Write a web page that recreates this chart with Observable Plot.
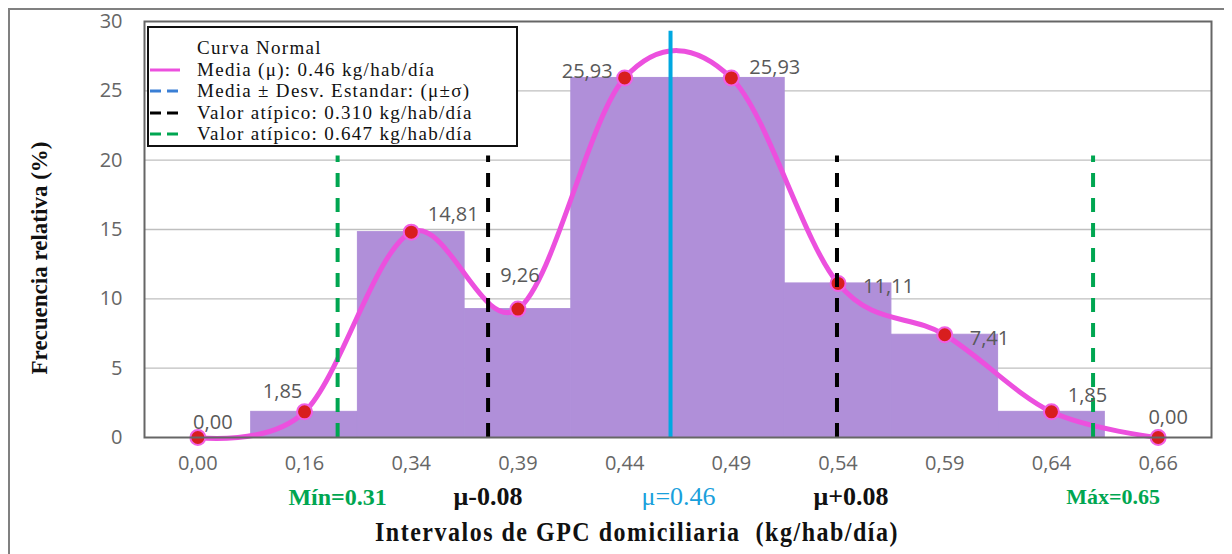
<!DOCTYPE html>
<html><head><meta charset="utf-8">
<script src="https://cdn.jsdelivr.net/npm/d3@7"></script>
<script src="https://cdn.jsdelivr.net/npm/@observablehq/plot@0.6"></script>
<style>
body{margin:0;background:#fff;}
#wrap{position:relative;width:1232px;height:554px;overflow:hidden;background:#fff;}
#wrap svg{position:absolute;left:0;top:0;}
.outer{position:absolute;left:8px;top:8px;width:1214px;height:560px;border-top:2px solid #808080;border-left:2px solid #808080;pointer-events:none;}
.legend{position:absolute;left:147px;top:26px;width:367px;height:117px;border:2px solid #111;background:#fff;font-family:"Liberation Serif",serif;font-size:19px;letter-spacing:1.3px;color:#111;overflow:hidden;}
.legend .row{position:absolute;left:0;height:22px;width:100%;}
.legend .row span{position:absolute;left:48px;top:0;line-height:22px;white-space:nowrap;}
.legend .row svg{position:absolute;left:7px;top:0;}
.xtitle{position:absolute;left:0;width:1274px;top:519px;text-align:center;font-family:"Liberation Serif",serif;font-weight:bold;font-size:24px;color:#111;letter-spacing:1.5px;transform:scaleY(1.12);}
.ytitle{position:absolute;left:40px;top:258px;font-family:"Liberation Serif",serif;font-weight:bold;font-size:23px;color:#111;white-space:nowrap;transform:translate(-50%,-50%) rotate(-90deg);}
</style></head><body><div id="wrap"></div>
<script>
// ---- data ----
const categories = ["0,00","0,16","0,34","0,39","0,44","0,49","0,54","0,59","0,64","0,66"];
const frecuencia = [0, 1.85, 14.81, 9.26, 25.93, 25.93, 11.11, 7.41, 1.85, 0];
const etiquetas = ["0,00","1,85","14,81","9,26","25,93","25,93","11,11","7,41","1,85","0,00"];
const yTicks = [0, 5, 10, 15, 20, 25, 30];
const refNames = ["Mín=0.31", "μ-0.08", "μ=0.46", "μ+0.08", "Máx=0.65"];
const refPos = [1.31, 2.72, 4.43, 5.99, 8.39];   // reference values along the category axis
const refTop = [20.3, 20.3, 29.3, 20.3, 20.3];
const legendItems = ["Curva Normal", "Media (μ): 0.46 kg/hab/día", "Media ± Desv. Estandar: (μ±σ)", "Valor atípico: 0.310 kg/hab/día", "Valor atípico: 0.647 kg/hab/día"];

// ---- build ----
const pts = categories.map((c, i) => ({i, c, v: frecuencia[i], lab: etiquetas[i]}));
const bars = pts.filter(d => d.v > 0);
const refs = refNames.map((n, k) => ({n, x: refPos[k], top: refTop[k], k}));
const refColor = ["#00a651", "#000000", "#00a8e1", "#000000", "#00a651"];
const refTextColor = ["#00a651", "#111111", "#1aa0dc", "#111111", "#00a651"];
const refTextSize = [24, 26, 26, 26, 22];

// label placement (layout, px offsets from point)
const labLayout = [
  {dx: 15, dy: -15, a: "middle"}, {dx: -22, dy: -20, a: "middle"}, {dx: 42, dy: -18, a: "middle"},
  {dx: 2, dy: -34, a: "middle"}, {dx: -12, dy: -6, a: "end"}, {dx: 18, dy: -10, a: "start"},
  {dx: 25, dy: 3, a: "start"}, {dx: 25, dy: 4, a: "start"}, {dx: 36, dy: -16, a: "middle"},
  {dx: 10, dy: -20, a: "middle"}
];

const labelMarks = pts.map((d, k) => Plot.text([d], {
  x: "i", y: "v", text: "lab", dx: labLayout[k].dx, dy: labLayout[k].dy,
  textAnchor: labLayout[k].a, fill: "#595959", fontSize: 20, fontFamily: "Open Sans", letterSpacing: "2px"
}));

const refTextMarks = refs.map(d => Plot.text([d], {
  x: "x", y: -4.3, text: "n", fill: refTextColor[d.k], dx: d.k === 2 ? 8 : (d.k === 3 ? 14 : (d.k === 4 ? 20 : 0)),
  fontFamily: "Liberation Serif", fontWeight: d.k === 2 ? "normal" : "bold", fontSize: refTextSize[d.k]
}));

const chart = Plot.plot({
  width: 1232, height: 554,
  marginLeft: 144, marginRight: 21, marginTop: 21, marginBottom: 117,
  style: {fontFamily: "Open Sans", fontSize: "19px", color: "#595959", background: "transparent", overflow: "visible"},
  x: {type: "linear", domain: [-0.5, 9.5]},
  y: {domain: [0, 30]},
  marks: [
    Plot.gridY([5, 10, 15, 20, 25], {stroke: "#bfbfbf", strokeOpacity: 1, strokeWidth: 1.3}),
    Plot.rectY(bars, {x1: d => d.i - 0.5, x2: d => d.i + 0.5, y1: 0, y2: "v", fill: "#b08fd9", stroke: "#b08fd9", strokeWidth: 1}),
    Plot.line(pts, {x: "i", y: "v", curve: "cardinal", stroke: "#ec50de", strokeWidth: 5}),
    Plot.dot(pts, {x: "i", y: "v", r: 7.5, fill: "#d81e1e", stroke: "#f060e4", strokeWidth: 2}),
    Plot.ruleX(refs.filter(d => d.k !== 2), {x: "x", y1: 0, y2: "top", stroke: d => refColor[d.k], strokeWidth: 4, strokeDasharray: "14,11"}),
    Plot.ruleX(refs.filter(d => d.k === 2), {x: "x", y1: 0, y2: "top", stroke: "#00a8e1", strokeWidth: 4}),
    ...labelMarks,
    Plot.frame({stroke: "#666", strokeWidth: 2}),
    Plot.axisX({ticks: d3.range(categories.length), tickFormat: i => categories[i], tickSize: 0, tickPadding: 18, fill: "#666", fontSize: 20, letterSpacing: "2px", label: null}),
    Plot.axisY({ticks: yTicks, tickSize: 0, tickPadding: 22, fill: "#666", fontSize: 20, letterSpacing: "1px", label: null}),
    ...refTextMarks
  ]
});

const wrap = document.getElementById("wrap");
wrap.appendChild(chart);

const outer = document.createElement("div"); outer.className = "outer"; wrap.appendChild(outer);

// legend
const lg = document.createElement("div"); lg.className = "legend";
const swatches = [null, {c: "#ec50de", dash: null}, {c: "#3a7fd5", dash: "11,6"}, {c: "#000", dash: "11,6"}, {c: "#00a651", dash: "11,6"}, {c: "#00a651", dash: "11,6"}];
const rowTop = [9, 31, 52, 74, 95, 113];
swatches.forEach((s, k) => {
  const row = document.createElement("div"); row.className = "row"; row.style.top = rowTop[k] + "px";
  if (s) {
    row.innerHTML = `<svg width="32" height="22"><line x1="1" y1="11" x2="31" y2="11" stroke="${s.c}" stroke-width="3" ${s.dash ? `stroke-dasharray="${s.dash}"` : ""}/></svg>`;
  }
  if (k < legendItems.length) {
    const sp = document.createElement("span"); sp.textContent = legendItems[k]; row.appendChild(sp);
  }
  lg.appendChild(row);
});
wrap.appendChild(lg);

const xt = document.createElement("div"); xt.className = "xtitle"; xt.textContent = "Intervalos de GPC domiciliaria\u00a0\u00a0(kg/hab/día)"; wrap.appendChild(xt);
const yt = document.createElement("div"); yt.className = "ytitle"; yt.textContent = "Frecuencia relativa (%)"; wrap.appendChild(yt);
</script>
</body></html>
